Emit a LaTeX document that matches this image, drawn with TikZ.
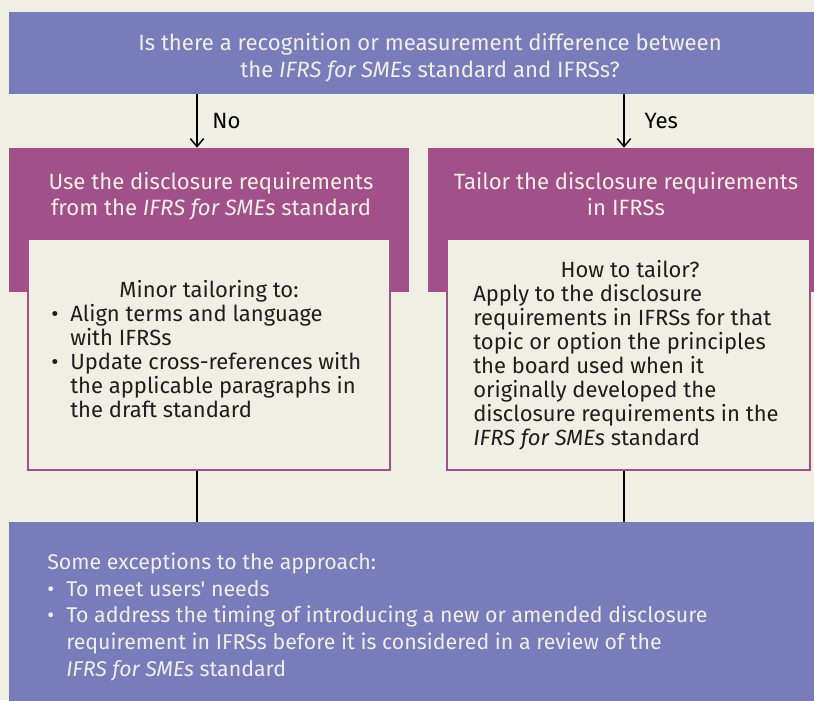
\documentclass[tikz,border=0pt]{standalone}
\usepackage{fontspec}
\setmainfont{Fira Sans}
\newfontfamily\condfont{Fira Sans}
\usetikzlibrary{positioning,fit,arrows.meta}
\definecolor{pageBg}{HTML}{F0EFE4}
\definecolor{ifrsBlue}{HTML}{797CBA}
\definecolor{ifrsPlum}{HTML}{A1508A}
\definecolor{inkDark}{HTML}{1E1E1E}
\newcommand{\bul}{\makebox[14.25pt][l]{\textbullet}}
\newcommand{\ind}{\hspace*{14.25pt}}

\begin{document}
\begin{tikzpicture}
    \tikzset{x=0.75pt,y=-0.75pt,every path/.style={>={Straight Barb[length=6pt,width=10pt]}},
      bluebox/.style={fill=ifrsBlue,inner sep=0pt},
      plumbox/.style={fill=ifrsPlum,inner sep=0pt},
      innerbox/.style={fill=pageBg,draw=ifrsPlum,line width=1.2pt,inner sep=0pt},
      condtxt/.style={inner sep=0pt,text=pageBg,font=\condfont\fontsize{16.6}{20.2}\selectfont},
      plumtxt/.style={inner sep=0pt,text=pageBg,align=center,font=\fontsize{16.6}{18.8}\selectfont},
      bodytxt/.style={inner sep=0pt,text=inkDark,font=\fontsize{16.5}{18}\selectfont},
      lbltxt/.style={inner sep=0pt,font=\condfont\fontsize{16.6}{18}\selectfont},
      flow/.style={line width=1.1pt,draw=black}}
    \fill[pageBg] (0,0) rectangle (814,700);
    \useasboundingbox (0,0) rectangle (814,700);
%   boxes
    \node [bluebox,fit={(9,12) (815,94)}]   (question) {};
    \node [plumbox,fit={(9,148) (409,292)}]  (usebox) {};
    \node [plumbox,fit={(428,148) (815,292)}] (tailorbox) {};
    \node [innerbox,fit={(28,239) (390,470)}] (minorbox) {};
    \node [innerbox,fit={(447,239) (810,470)}] (howbox) {};
    \node [bluebox,fit={(9,522) (815,701)}]  (exceptbox) {};
%   texts (base = last line)
    \node [condtxt,align=center,anchor=base] (questiontxt) at (430,77)
      {Is there a recognition or measurement difference between\\ the \textit{IFRS for SMEs} standard and IFRSs?};
    \node [plumtxt,anchor=base] (usetxt) at (211,215)
      {Use the disclosure requirements\\ from the \textit{IFRS for SMEs} standard};
    \node [plumtxt,anchor=base] (tailortxt) at (626,215)
      {Tailor the disclosure requirements\\ in IFRSs};
    \node [bodytxt,anchor=base] (minortitle) at (209,297) {Minor tailoring to:};
    \node [bodytxt,align=left,anchor=base west] (minorlist) at (51,417)
      {\bul Align terms and language\\ \ind with IFRSs\\ \bul Update cross-references with\\
       \ind the applicable paragraphs in\\ \ind the draft standard};
    \node [bodytxt,anchor=base] (howtitle) at (630,277) {How to tailor?};
    \node [bodytxt,align=left,anchor=base west] (howlist) at (473,445)
      {Apply to the disclosure\\ requirements in IFRSs for that\\ topic or option the principles\\
       the board used when it\\ originally developed the\\ disclosure requirements in the\\
       \textit{IFRS for SMEs} standard};
    \node [condtxt,font=\condfont\fontsize{16}{20}\selectfont,align=left,anchor=base west] (excepttxt) at (47,676)
      {Some exceptions to the approach:\\ \bul To meet users' needs\\
       \bul To address the timing of introducing a new or amended disclosure\\
       \ind requirement in IFRSs before it is considered in a review of the\\
       \ind \textit{IFRS for SMEs} standard};
%   connectors
    \coordinate (nocol) at (197,0);
    \coordinate (yescol) at (624,0);
    \draw [flow,->] (question.south -| nocol) -- (usebox.north -| nocol)
      node [midway,right=11pt,lbltxt] (nolbl) {No};
    \draw [flow,->] (question.south -| yescol) -- (tailorbox.north -| yescol)
      node [midway,right=15pt,lbltxt] (yeslbl) {Yes};
    \draw [flow] (minorbox.south -| nocol) -- (exceptbox.north -| nocol);
    \draw [flow] (howbox.south -| yescol) -- (exceptbox.north -| yescol);
\end{tikzpicture}
\end{document}
